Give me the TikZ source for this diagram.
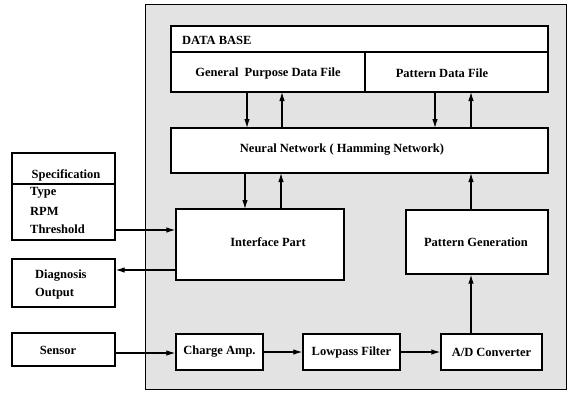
\documentclass[tikz,border=0pt]{standalone}
\usepackage{fontspec}
\setmainfont{Liberation Serif}
\usetikzlibrary{arrows.meta}
\begin{document}
\begin{tikzpicture}[x=1pt,y=-1pt,
  blk/.style={draw=black,line width=1.3pt,fill=white},
  lbl/.style={font=\fontsize{12.5}{14}\selectfont\bfseries,inner sep=0pt},
  flow/.style={line width=1.1pt,-{Latex[length=9pt,width=5.5pt]}}]
\useasboundingbox (0,0) rectangle (573,392);
% shaded system frame
\draw[line width=1pt,fill=gray!22] (145,4) rectangle (566,389);
% data base
\draw[blk] (171,26) rectangle (548,92);
\draw[line width=1.3pt] (171,52) -- (548,52);
\draw[line width=1.3pt] (365,52) -- (365,92);
\node[lbl,anchor=west] (db) at (182,40) {DATA BASE};
\node[lbl] (gpftext) at (268,73) {General \ Purpose Data File};
\node[lbl] (pdftext) at (442,73) {Pattern Data File};
% neural network
\node[blk,minimum width=377pt,minimum height=45pt,inner sep=0pt] (nn) at (359.5,150.5) {};
\node[lbl] at (342,150) {Neural Network ( Hamming Network)};
% interface and pattern generation
\node[blk,minimum width=168pt,minimum height=71pt,inner sep=0pt] (ip) at (260,244.5) {};
\node[lbl] at (268,242) {Interface Part};
\node[blk,minimum width=142pt,minimum height=64pt,inner sep=0pt] (pg) at (477,242) {};
\node[lbl] at (476,242) {Pattern Generation};
% signal chain
\node[blk,minimum width=87pt,minimum height=36pt,inner sep=0pt] (ca) at (219.5,352) {};
\node[lbl] at (ca) {Charge Amp.};
\node[blk,minimum width=97pt,minimum height=36pt,inner sep=0pt] (lp) at (351.5,352) {};
\node[lbl] at (lp) {Lowpass Filter};
\node[blk,minimum width=101pt,minimum height=36pt,inner sep=0pt] (ad) at (491.5,352) {};
\node[lbl] at (ad) {A/D Converter};
% outside blocks
\node[blk,minimum width=103pt,minimum height=87pt,inner sep=0pt] (spec) at (63.5,196.5) {};
\draw[line width=1.3pt] (12,184) -- (115,184);
\node[lbl] at (66,175) {Specification};
\node[lbl,anchor=west] at (30,193) {Type};
\node[lbl,anchor=west] at (30,211) {RPM};
\node[lbl,anchor=west] at (30,229) {Threshold};
\node[blk,minimum width=103pt,minimum height=48pt,inner sep=0pt] (diag) at (63.5,283) {};
\node[lbl,anchor=west] at (35,276) {Diagnosis};
\node[lbl,anchor=west] at (35,294) {Output};
\node[blk,minimum width=103pt,minimum height=33pt,inner sep=0pt] (sen) at (63.5,349.5) {};
\node[lbl] at (58,350) {Sensor};
% data base <-> neural network
\draw[flow] (247,92) -- (247,128);
\draw[flow] (282,128) -- (282,92);
\draw[flow] (435,92) -- (435,128);
\draw[flow] (471,128) -- (471,92);
% neural network <-> interface / pattern generation
\draw[flow] (245,173) -- (245,209);
\draw[flow] (281,209) -- (281,173);
\draw[flow] (471,210) -- (471,173);
% external links
\draw[flow] (spec.east |- 0,230) -- (ip.west |- 0,230);
\draw[flow] (ip.west |- 0,270) -- (diag.east |- 0,270);
\draw[flow] (sen.east |- 0,353) -- (ca.west |- 0,353);
% signal chain links
\draw[flow] (ca.east) -- (lp.west);
\draw[flow] (lp.east) -- (ad.west);
\draw[flow] (ad.north -| 471,0) -- (pg.south -| 471,0);
\end{tikzpicture}
\end{document}
